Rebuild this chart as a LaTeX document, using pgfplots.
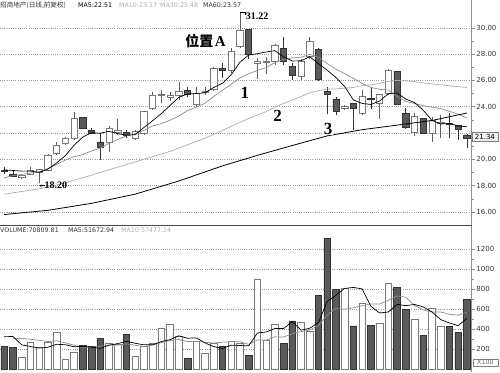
\documentclass[border=0pt]{standalone}
\usepackage{fontspec}
\usepackage{pgfplots}
\usepackage{pgfplotstable}
\pgfplotsset{compat=1.18}
\usetikzlibrary{arrows.meta}
\setmainfont{DejaVu Sans}
\newfontfamily\cjk{Noto Sans CJK SC}
\newfontfamily\dv{DejaVu Sans}
\newfontfamily\serif{Liberation Serif}

\definecolor{downfill}{HTML}{5A5A5A}
\definecolor{downedge}{HTML}{333333}
\definecolor{upedge}{HTML}{7A7A7A}
\definecolor{wick}{HTML}{5E5E5E}
\definecolor{ma10c}{HTML}{8C8C8C}
\definecolor{ma30c}{HTML}{ADADAD}
\definecolor{gridc}{HTML}{9A9A9A}
\definecolor{axisc}{HTML}{909090}
\definecolor{txtc}{HTML}{333333}

% candles: x open high low close
\pgfplotstableread{
x o h l c
2 18.6 18.85 18.55 18.78
3 18.88 19.38 18.78 19.18
4 19.03 19.3 18.2 19.24
5 19.18 20.4 19.1 20.32
6 20.45 21.34 20.3 21.08
7 21.2 21.7 21.1 21.6
8 21.6 23.6 21.45 23.1
12 21.33 22.5 20.58 22.35
13 22.02 23.1 21.85 22.22
15 21.6 22.2 21.45 22.1
16 22.0 23.7 21.85 23.65
17 23.88 25.15 23.75 24.9
18 24.85 25.27 24.25 24.92
19 24.7 25.14 24.4 24.9
20 24.9 25.9 24.5 25.18
22 24.15 25.5 24.0 25.05
23 25.1 25.5 24.9 25.2
24 25.3 27.0 25.2 26.9
26 26.8 28.45 26.6 28.2
27 28.6 31.22 28.5 29.8
29 27.3 27.7 26.1 27.42
30 27.35 27.8 26.5 27.45
31 27.45 28.75 27.2 28.7
34 26.3 27.6 26.0 27.45
35 27.8 29.3 27.6 29.0
39 23.9 24.1 23.75 24.0
41 23.5 25.3 23.4 24.76
43 24.25 25.0 23.05 24.95
44 25.0 26.85 24.9 26.8
47 22.05 23.5 21.75 23.25
49 21.97 23.2 21.35 22.95
50 22.7 23.35 21.6 22.8
}\uptab

\pgfplotstableread{
x o h l c
0 19.15 19.45 18.85 19.1
1 18.88 19.2 18.65 18.73
9 23.17 23.24 22.28 22.35
10 22.22 22.35 21.9 21.97
11 21.33 21.97 19.95 20.9
14 22.05 22.2 21.6 21.8
21 25.22 25.5 24.76 24.97
25 26.9 27.3 26.15 26.8
28 29.85 29.9 27.6 27.95
32 28.45 29.3 27.2 27.45
33 27.05 27.3 26.05 26.4
36 28.35 28.5 26.0 26.05
37 25.15 25.5 23.45 24.95
38 24.6 24.7 23.4 23.65
40 24.25 24.3 22.2 23.9
42 24.63 25.45 23.8 24.53
45 26.7 26.75 24.15 24.2
46 23.5 23.9 22.3 22.4
48 23.1 23.15 21.9 22.0
51 22.75 23.5 21.6 22.65
52 22.55 22.6 21.5 22.25
53 21.85 21.9 20.85 21.6
}\downtab

% price moving averages
\pgfplotstableread{
x ma5 ma10 ma30
0 19.2 18.6 17.35
1 19.15 18.75 17.45
2 19.1 18.85 17.55
3 19.1 18.95 17.65
4 19.01 19.05 17.75
5 19.25 19.3 17.9
6 19.72 19.6 18.05
7 20.28 19.95 18.2
8 21.07 20.2 18.4
9 21.69 20.35 18.6
10 22.02 20.64 18.8
11 21.98 20.85 19.0
12 22.13 21.21 19.2
13 21.95 21.51 19.4
14 21.84 21.77 19.6
15 21.87 21.95 19.8
16 22.42 22.2 20.0
17 22.93 22.53 20.2
18 23.47 22.71 20.4
19 24.09 22.97 20.6
20 24.71 23.29 20.85
21 24.97 23.7 21.1
22 25.0 23.97 21.35
23 25.06 24.27 21.6
24 25.46 24.78 21.9
25 25.78 25.25 22.2
26 26.43 25.7 22.5
27 27.38 26.19 22.8
28 27.93 26.5 23.1
29 28.03 26.75 23.36
30 28.16 26.97 23.63
31 28.26 27.35 23.97
32 27.79 27.59 24.25
33 27.48 27.71 24.5
34 27.49 27.76 24.77
35 27.8 27.98 25.06
36 27.27 27.77 25.22
37 26.77 27.28 25.34
38 26.22 26.85 25.35
39 25.53 26.51 25.41
40 24.51 26.16 25.47
41 24.25 25.76 25.6
42 24.17 25.47 25.67
43 24.43 25.32 25.77
44 24.99 25.26 25.93
45 25.05 24.78 26.0
46 24.58 24.41 25.96
47 24.32 24.24 25.91
48 23.73 24.08 25.81
49 22.96 23.97 25.74
50 22.68 23.86 25.66
51 22.73 23.65 25.59
52 22.53 23.43 25.52
53 22.47 23.15 25.46
}\pricema

\pgfplotstableread{
x ma60
0 15.8
5 16.12
10 16.65
15 17.35
20 18.35
25 19.5
29 20.3
33 21.05
37 21.78
41 22.25
45 22.6
49 22.95
53 23.52
}\maSixty

% volume (x100)
\pgfplotstableread{
x v
2 120
3 270
4 220
5 270
6 370
7 100
8 167
12 257
13 250
15 133
16 233
17 260
18 410
19 447
20 327
22 277
23 160
24 260
26 277
27 260
29 898
30 287
31 452
34 472
35 385
39 814
41 663
43 462
44 864
47 502
49 613
50 432
}\volup

\pgfplotstableread{
x v
0 233
1 220
9 240
10 226
11 313
14 350
21 110
25 233
28 143
32 260
33 485
36 737
37 1311
38 797
40 435
42 442
45 817
46 596
48 341
51 428
52 368
53 697
}\voldown

\pgfplotstableread{
x m
0 326
1 328
2 245
3 228
4 212.6
5 220
6 250
7 246
8 225.4
9 229.4
10 220.6
11 209.2
12 240.6
13 257.2
14 279.2
15 260.6
16 244.6
17 245.2
18 277.2
19 296.6
20 335.4
21 310.8
22 314.2
23 264.2
24 226.8
25 208
26 241.4
27 238
28 234.6
29 362.2
30 373
31 408
32 408
33 476.4
34 391.2
35 410.8
36 467.8
37 678
38 740.4
39 808.8
40 818.8
41 804
42 630.2
43 563.2
44 573.2
45 649.6
46 636.2
47 648.2
48 624
49 573.8
50 496.8
51 463.2
52 436.4
53 510
}\vmafive

\pgfplotstableread{
x m
1 305
2 310
3 300
4 290
5 277
6 285
7 265
8 240
9 221
10 220.3
11 229.6
12 243.3
13 241.3
14 254.3
15 240.6
16 226.9
17 242.9
18 267.2
19 287.9
20 298
21 277.7
22 279.7
23 270.7
24 261.7
25 271.7
26 276.1
27 276.1
28 249.4
29 294.5
30 290.5
31 324.7
32 323
33 355.5
34 376.7
35 391.9
36 437.9
37 543
38 608.4
39 600
40 614.8
41 635.9
42 654.1
43 651.8
44 691
45 734.2
46 720.1
47 639.2
48 593.6
49 573.5
50 573.2
51 549.7
52 542.3
53 570
}\vmaten

\pgfplotsset{
  pricebase/.style={scale only axis, width=471.7pt, height=225pt, at={(0pt,147pt)}, anchor=south west,
    xmin=-0.481, xmax=53.55, ymin=15.004, ymax=32.114},
  volbase/.style={scale only axis, width=471.7pt, height=147pt, at={(0pt,0pt)}, anchor=south west,
    xmin=-0.481, xmax=53.55, ymin=-27, ymax=1443},
  rightaxis/.style={axis x line=none, axis y line*=right,
    y axis line style={draw=axisc, line width=0.6pt},
    ymajorgrids, grid style={gridc, dash pattern=on 0.6pt off 1.6pt, line width=0.5pt},
    minor y tick num=1, tick align=outside, major tick length=3.5pt, minor tick length=2pt,
    tick style={axisc, line width=0.5pt},
    yticklabel style={font=\dv\fontsize{7}{8}\selectfont, text=txtc, anchor=west, inner sep=1pt}},
}

\begin{document}
\begin{tikzpicture}[x=1pt,y=1pt]
\path[use as bounding box] (0,0) rectangle (500,372);

% price grid and right axis
\begin{axis}[pricebase, rightaxis,
  ytick={16,18,20,22,24,26,28,30},
  yticklabels={16.00,18.00,20.00,,24.00,26.00,28.00,30.00}]
\addplot[draw=none] coordinates {(0,20)};
\end{axis}

% up candles
\begin{axis}[pricebase, hide axis, ybar stacked, bar width=6.3pt]
\addplot[draw=none, fill=none,
  error bars/.cd, y dir=minus, y explicit, error mark=none,
  error bar style={draw=wick, line width=0.6pt, solid}]
  table[x=x, y expr={min(\thisrow{o},\thisrow{c})},
        y error minus expr={min(\thisrow{o},\thisrow{c})-\thisrow{l}}] {\uptab};
\addplot[fill=white, draw=upedge, line width=0.6pt,
  error bars/.cd, y dir=plus, y explicit, error mark=none,
  error bar style={draw=wick, line width=0.6pt, solid}]
  table[x=x, y expr={abs(\thisrow{c}-\thisrow{o})},
        y error plus expr={\thisrow{h}-max(\thisrow{o},\thisrow{c})}] {\uptab};
\end{axis}

% down candles
\begin{axis}[pricebase, hide axis, ybar stacked, bar width=6.3pt]
\addplot[draw=none, fill=none,
  error bars/.cd, y dir=minus, y explicit, error mark=none,
  error bar style={draw=downedge, line width=0.6pt, solid}]
  table[x=x, y expr={min(\thisrow{o},\thisrow{c})},
        y error minus expr={min(\thisrow{o},\thisrow{c})-\thisrow{l}}] {\downtab};
\addplot[fill=downfill, draw=downedge, line width=0.6pt,
  error bars/.cd, y dir=plus, y explicit, error mark=none,
  error bar style={draw=downedge, line width=0.6pt, solid}]
  table[x=x, y expr={abs(\thisrow{c}-\thisrow{o})},
        y error plus expr={\thisrow{h}-max(\thisrow{o},\thisrow{c})}] {\downtab};
\end{axis}

% moving averages and annotations
\begin{axis}[pricebase, hide axis, clip mode=individual]
\addplot[ma30c, line width=0.7pt] table[x=x, y=ma30] {\pricema};
\addplot[ma10c, line width=0.7pt] table[x=x, y=ma10] {\pricema};
\addplot[black, line width=0.7pt] table[x=x, y=ma5] {\pricema};
\addplot[black, line width=0.8pt] table[x=x, y=ma60] {\maSixty};

\node[inner sep=0pt] at (axis cs:23.06,28.97)
  {{\cjk\bfseries\fontsize{14}{14}\selectfont 位置}\hspace{1.5pt}{\serif\bfseries\fontsize{15}{15}\selectfont A}};
\node[inner sep=0pt, font=\serif\bfseries\fontsize{17}{17}\selectfont] at (axis cs:27.58,25.08) {1};
\node[inner sep=0pt, font=\serif\bfseries\fontsize{17}{17}\selectfont] at (axis cs:31.31,23.28) {2};
\node[inner sep=1pt, fill=white, font=\serif\bfseries\fontsize{17}{17}\selectfont] at (axis cs:37.09,22.33) {3};
\draw[black, line width=0.5pt] (axis cs:27,31.22) -- (axis cs:27.6,31.22) -- (axis cs:27.6,30.95);
\node[anchor=west, inner sep=0pt, font=\serif\bfseries\fontsize{10}{10}\selectfont] at (axis cs:27.65,30.85) {31.22};
\draw[black, line width=0.5pt, -{Stealth[length=2.5pt,width=2.5pt]}] (axis cs:4.62,18.0) -- (axis cs:4.0,18.0);
\node[anchor=west, inner sep=0pt, font=\serif\bfseries\fontsize{10}{10}\selectfont] at (axis cs:4.62,18.0) {18.20};
\end{axis}

% volume panel
\begin{axis}[volbase, rightaxis,
  ytick={200,400,600,800,1000,1200},
  yticklabels={200,400,600,800,1000,1200}]
\addplot[ybar, bar shift=0pt, bar width=6.6pt, fill=white, draw=upedge, line width=0.6pt] table[x=x, y=v] {\volup};
\addplot[ybar, bar shift=0pt, bar width=6.6pt, fill=downfill, draw=downedge, line width=0.6pt] table[x=x, y=v] {\voldown};
\addplot[ma10c, line width=0.7pt] table[x=x, y=m] {\vmaten};
\addplot[black, line width=0.7pt] table[x=x, y=m] {\vmafive};
\end{axis}

% separator between panels
\draw[color=gray!60!black, line width=0.6pt] (0,147) -- (471.7,147);

% headers
\node[anchor=west, inner sep=0pt, text=txtc, font=\cjk\fontsize{6.6}{7}\selectfont] at (0,366.3) {招商地产(日线,前复权)};
\node[anchor=west, inner sep=0pt, text=black, font=\dv\fontsize{6.3}{7}\selectfont] at (78,366.3) {MA5:22.51};
\node[anchor=west, inner sep=0pt, text=ma30c, font=\dv\fontsize{6.3}{7}\selectfont] at (119,366.3) {MA10:23.17};
\node[anchor=west, inner sep=0pt, text=ma30c, font=\dv\fontsize{6.3}{7}\selectfont] at (160,366.3) {MA30:25.48};
\node[anchor=west, inner sep=0pt, text=txtc, font=\dv\fontsize{6.3}{7}\selectfont] at (203,366.3) {MA60:23.57};

\node[anchor=west, inner sep=0pt, text=txtc, font=\dv\fontsize{6.3}{7}\selectfont] at (0,142) {VOLUME:70809.81};
\node[anchor=west, inner sep=0pt, text=txtc, font=\dv\fontsize{6.3}{7}\selectfont] at (68,142) {MA5:51672.94};
\node[anchor=west, inner sep=0pt, text=ma30c, font=\dv\fontsize{6.3}{7}\selectfont] at (121,142) {MA10:57477.14};

% last price box and unit box
\node[draw=gray, fill=gray!12, anchor=west, inner sep=0pt, minimum width=26pt, minimum height=9pt,
  text=black, font=\dv\fontsize{7}{8}\selectfont] at (471.7,234.8) {21.34};
\node[draw=gray, fill=white, anchor=south west, inner sep=0pt, minimum width=25pt, minimum height=7.7pt,
  text=gray!80!black, font=\dv\fontsize{6.3}{7}\selectfont] at (472.7,5.3) {X100};
\end{tikzpicture}
\end{document}
